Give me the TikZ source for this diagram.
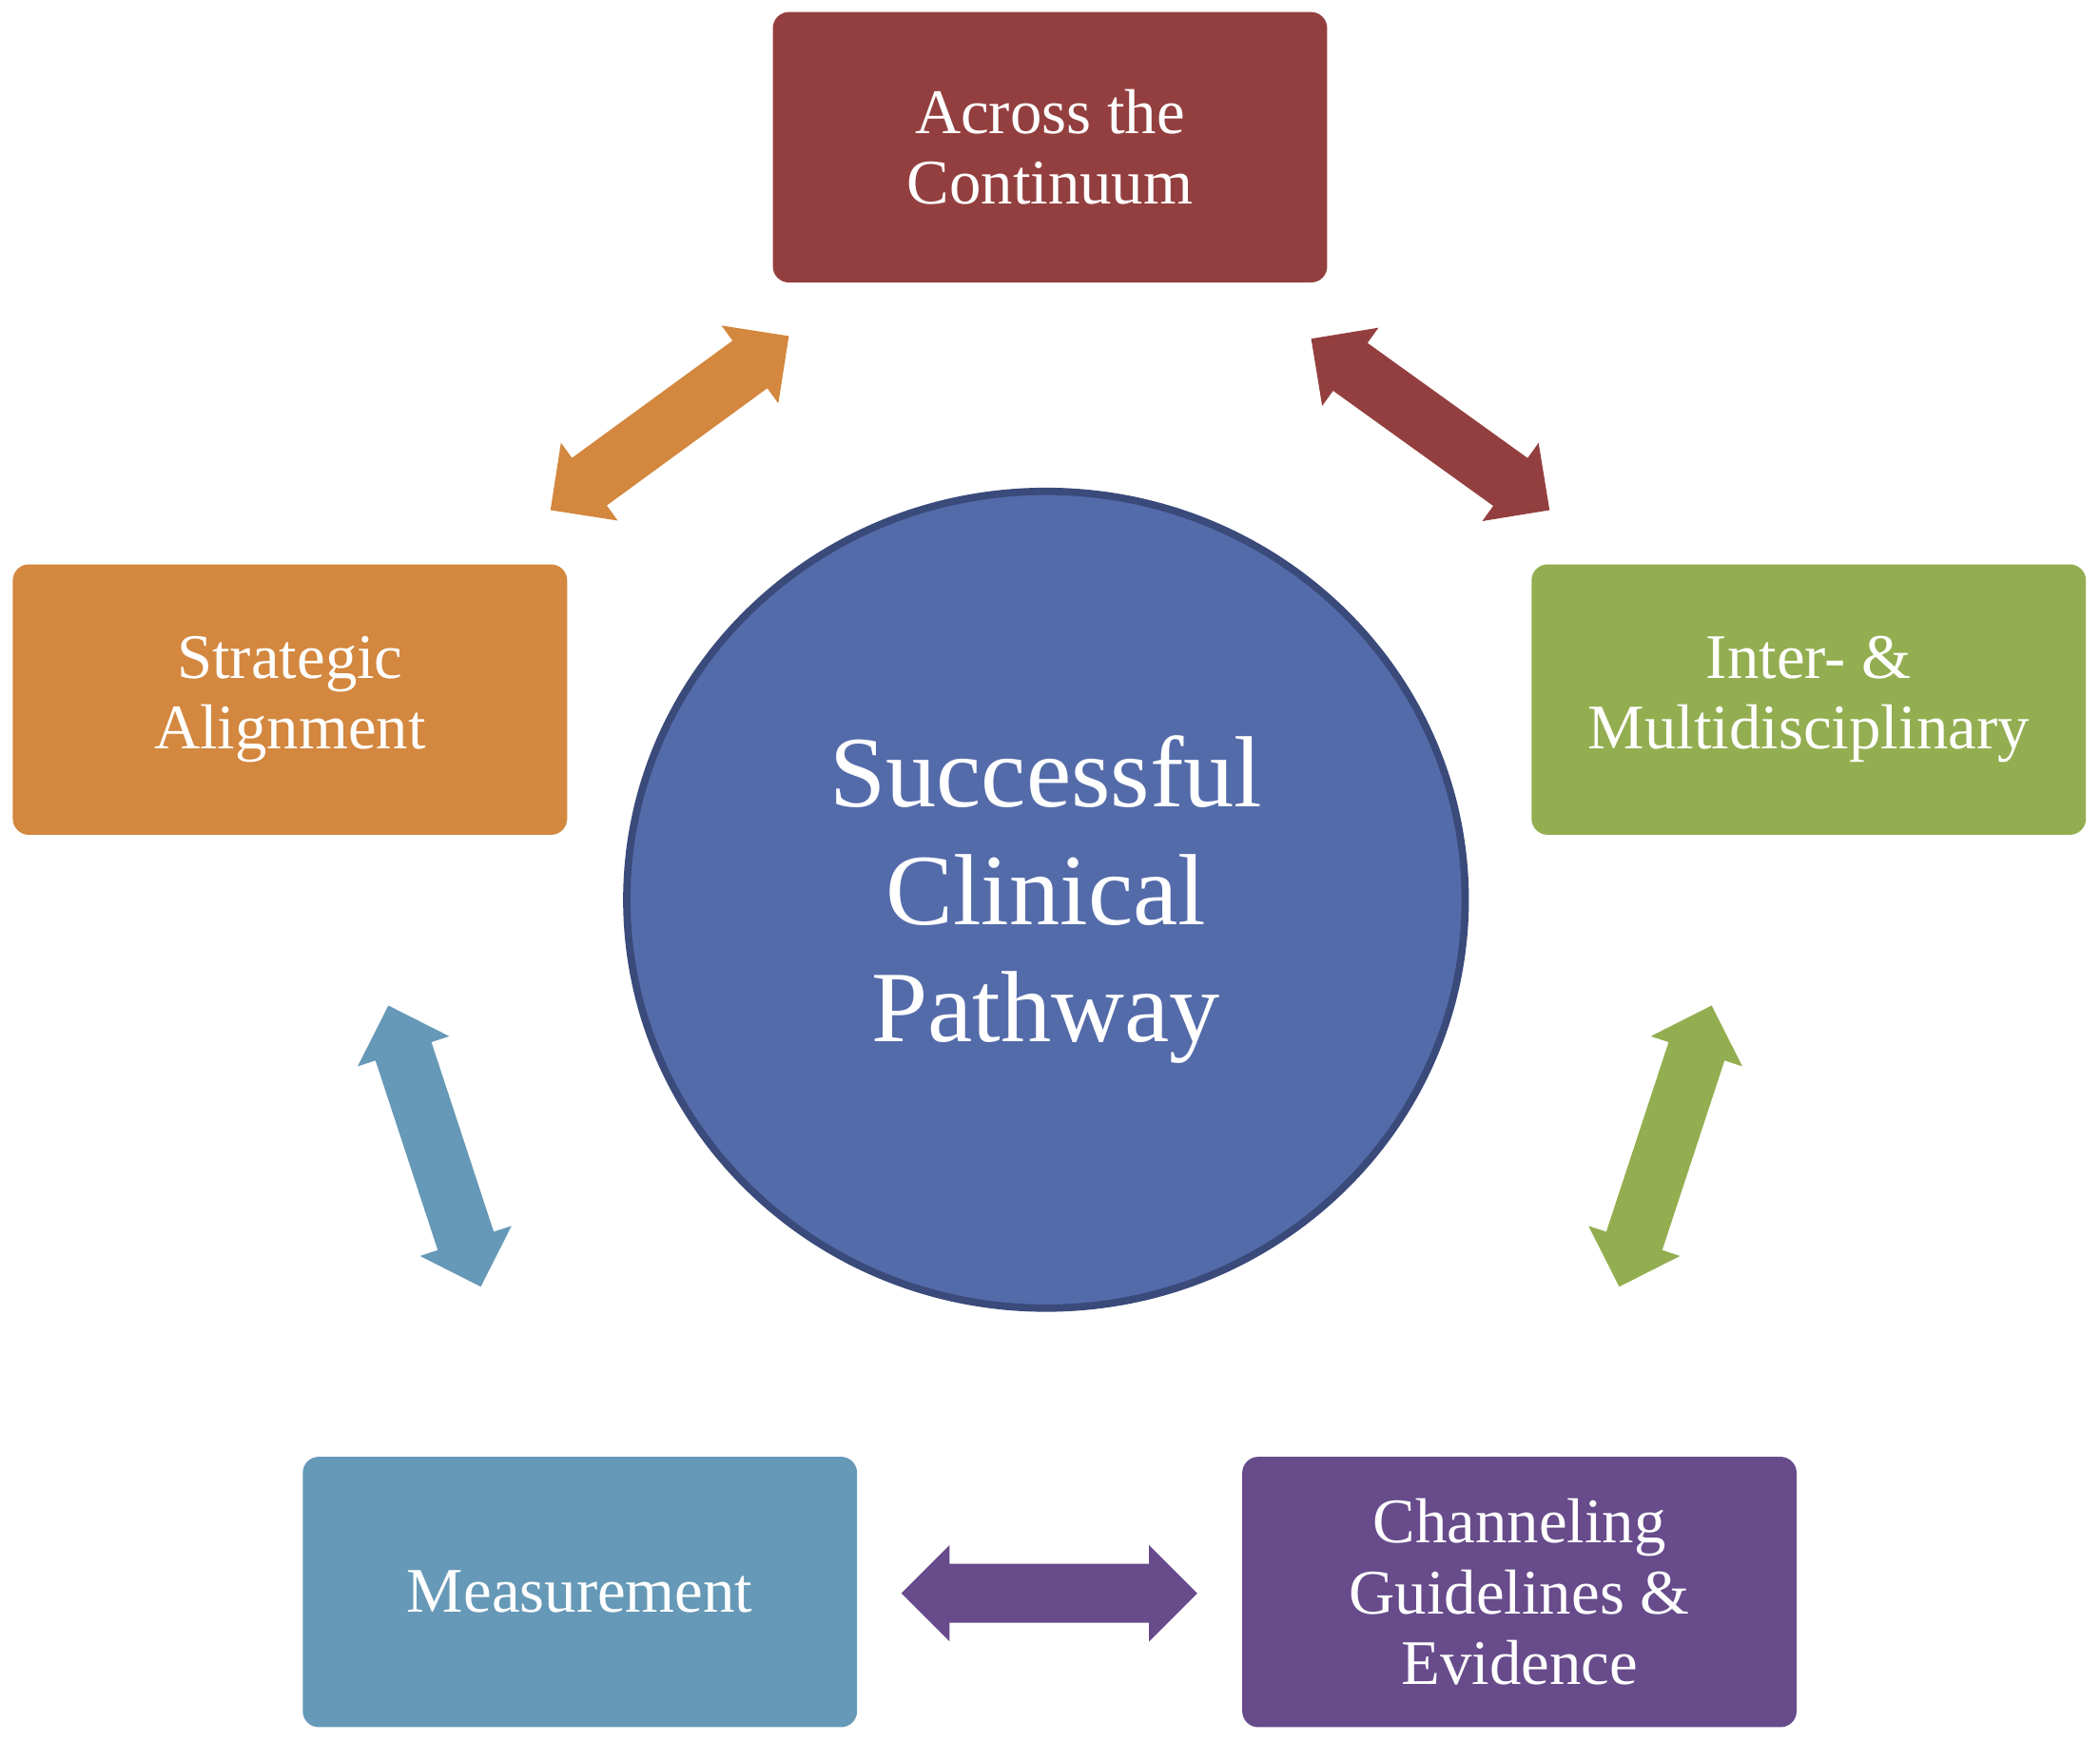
\documentclass[tikz,border=0pt]{standalone}
\usepackage{fontspec}
\setmainfont{Liberation Serif}
\usetikzlibrary{calc}
\definecolor{cred}{HTML}{943F3F}
\definecolor{corange}{HTML}{D3873F}
\definecolor{cgreen}{HTML}{93AE50}
\definecolor{cblue}{HTML}{6699B7}
\definecolor{cpurple}{HTML}{674B8B}
\definecolor{ccirc}{HTML}{546BAA}
\definecolor{ccircb}{HTML}{3A4A7A}
\newcommand{\dblarr}[4]{%
  \coordinate (#2a) at (#3); \coordinate (#2b) at (#4);
  \coordinate (#2h1) at ($(#2a)!0.72cm!(#2b)$);
  \coordinate (#2h2) at ($(#2b)!0.72cm!(#2a)$);
  \fill[#1] (#2a) -- ($(#2h1)!0.72cm!90:(#2b)$) -- ($(#2h1)!0.44cm!90:(#2b)$)
    -- ($(#2h2)!0.44cm!-90:(#2a)$) -- ($(#2h2)!0.72cm!-90:(#2a)$) -- (#2b)
    -- ($(#2h2)!0.72cm!90:(#2a)$) -- ($(#2h2)!0.44cm!90:(#2a)$)
    -- ($(#2h1)!0.44cm!-90:(#2b)$) -- ($(#2h1)!0.72cm!-90:(#2b)$) -- cycle;}
\begin{document}
\begin{tikzpicture}[x=0.02cm,y=0.02cm,
  box/.style={rounded corners=0.24cm, minimum width=8.28cm, minimum height=4.04cm,
    text=white, align=center, font=\fontsize{27}{30}\selectfont, inner sep=0pt}]
\useasboundingbox (0,0) rectangle (1568,1300);
\node[box, fill=cred] (top) at (784,1190) {Across the\\Continuum};
\node[box, fill=corange] (left) at (216.5,777.5) {Strategic\\Alignment};
\node[box, fill=cgreen] (right) at (1350.5,777.5) {Inter- \&\\Multidisciplinary};
\node[box, fill=cblue] (bl) at (433,111) {Measurement};
\node[box, fill=cpurple] (br) at (1134.5,111) {Channeling\\Guidelines \&\\Evidence};
\draw[ccircb, line width=0.11cm, fill=ccirc] (781,628) ellipse [x radius=313, y radius=305];
\node[text=white, align=center, font=\fontsize{43}{50}\selectfont] (c) at (781,628) {Successful\\Clinical\\Pathway};
\dblarr{corange}{a1}{411,919}{589,1049}
\dblarr{cred}{a2}{979,1047}{1157,919}
\dblarr{cblue}{a3}{290,549}{359,339}
\dblarr{cgreen}{a4}{1278,549}{1209,339}
\dblarr{cpurple}{a5}{673,110}{894,110}
\end{tikzpicture}
\end{document}
